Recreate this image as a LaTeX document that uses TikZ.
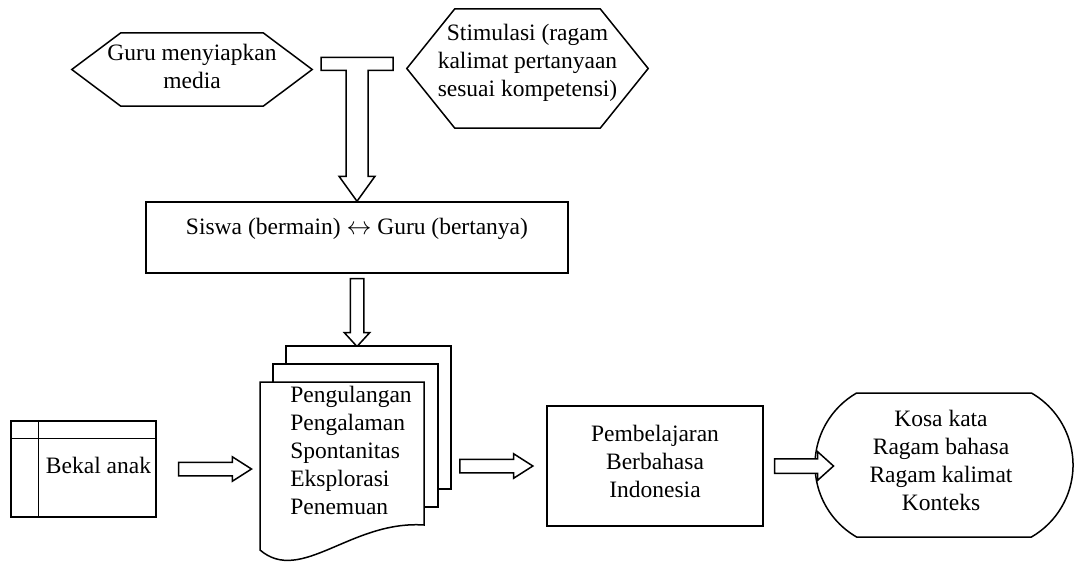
\documentclass[tikz,border=0pt]{standalone}
\usepackage{fontspec}
\setmainfont{Liberation Serif}
\usetikzlibrary{positioning,calc,shapes.arrows,shapes.misc}

\begin{document}
\begin{tikzpicture}[x=1pt, y=1pt, font=\fontsize{23.5}{28}\selectfont,
        box/.style={rectangle, draw, line width=1.5pt, inner sep=0pt, align=center},
        hexa/.style={rectangle, inner sep=0pt, align=center},
        barrow/.style={single arrow, draw, line width=1.5pt, fill=white, inner xsep=0pt, single arrow head indent=0pt},
        line/.style={draw, line width=1.5pt, line join=miter}
    ]
        \useasboundingbox (0,0) rectangle (1075,-563);

        % Hexagons
        \node[hexa, minimum width=142pt, minimum height=73pt, label={[align=center, yshift=3pt]center:Guru menyiapkan\\media}] (media) at (192,-69.5) {};
        \draw[line] (media.north west) -- (media.north east) -- ([xshift=49pt]media.east) -- (media.south east) -- (media.south west) -- ([xshift=-49pt]media.west) -- cycle;
        \node[hexa, minimum width=145pt, minimum height=119pt, label={[align=center, yshift=6pt]center:Stimulasi (ragam\\kalimat pertanyaan\\sesuai kompetensi)}] (stimulasi) at (527.5,-68.5) {};
        \draw[line] (stimulasi.north west) -- (stimulasi.north east) -- ([xshift=48pt]stimulasi.east) -- (stimulasi.south east) -- (stimulasi.south west) -- ([xshift=-48pt]stimulasi.west) -- cycle;

        % Siswa - Guru
        \node[box, minimum width=422pt, minimum height=71pt, label={[yshift=8.5pt]center:Siswa (bermain) $\leftrightarrow$ Guru (bertanya)}] (siswa) at (357,-237.5) {};
        \begin{scope}[shift={(siswa.north)}]
            \draw[line, fill=white] (0,0) -- (-18,25) -- (-11,25) -- (-11,131) -- (-36,131) -- (-36,144) -- (36,144) -- (36,131) -- (11,131) -- (11,25) -- (18,25) -- cycle;
        \end{scope}
        \node[barrow, shape border rotate=270, minimum height=68pt, inner sep=6pt, single arrow head extend=6pt, single arrow tip angle=85, below=4pt of siswa] (turun) {};

        % Dokumen
        \coordinate (docc) at (351,-450);
        \begin{scope}[shift={(docc)}]
            \draw[line, fill=white] (-65,104) rectangle (100,-39);
            \draw[line, fill=white] (-78,86) rectangle (87,-57);
            \draw[line, fill=white] (73,-75) -- (73,68) -- (-91,68) -- (-91,-100) .. controls (-50,-135) and (0,-70) .. (73,-75) -- cycle;
        \end{scope}
        \node[align=left, inner sep=0pt] (docs) at (docc) {Pengulangan\\Pengalaman\\Spontanitas\\Eksplorasi\\Penemuan};

        % Bekal anak
        \node[box, minimum width=145pt, minimum height=96pt, label={[xshift=15pt, yshift=4pt]center:Bekal anak}] (bekal) at (83.5,-469) {};
        \draw[line] ([xshift=28pt]bekal.north west) -- ([xshift=28pt]bekal.south west);
        \draw[line] ([yshift=-18pt]bekal.north west) -- ([yshift=-18pt]bekal.north east);

        % Pembelajaran
        \node[box, minimum width=216pt, minimum height=120pt, label={[align=center, yshift=5pt]center:Pembelajaran\\Berbahasa\\Indonesia}] (pemb) at (655,-466) {};

        % Hasil
        \node[rounded rectangle, draw, line width=1.5pt, rounded rectangle arc length=120, minimum width=258pt, minimum height=144pt, inner sep=0pt, label={[align=center, xshift=-3pt, yshift=5pt]center:Kosa kata\\Ragam bahasa\\Ragam kalimat\\Konteks}] (hasil) at (944,-465) {};

        % Arrows
        \node[barrow, minimum height=73pt, inner ysep=6pt, single arrow head extend=5.5pt, single arrow tip angle=65, right=21pt of bekal] (masuk) {};
        \node[barrow, minimum height=73pt, inner ysep=6pt, single arrow head extend=5.5pt, single arrow tip angle=65, left=12pt of pemb] (proses) {};
        \node[barrow, minimum height=59pt, inner ysep=6.5pt, single arrow head extend=7pt, single arrow tip angle=84, right=10pt of pemb] (keluar) {};
    \end{tikzpicture}
\end{document}
